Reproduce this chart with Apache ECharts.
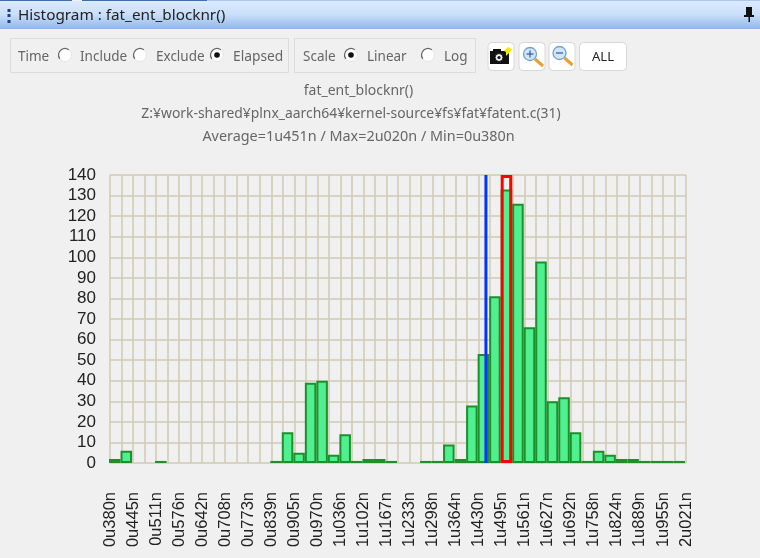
<!DOCTYPE html>
<html><head><meta charset="utf-8">
<style>html,body{margin:0;padding:0;background:#f0f0f0}#c{width:760px;height:558px}</style>
<script src="https://cdn.jsdelivr.net/npm/echarts@6/dist/echarts.min.js"></script>
</head><body><div id="c"></div>
<script>
const binCounts = [2,6,0,0,1,0,0,0,0,0,0,0,0,0,1,15,5,39,40,4,14,1,2,2,1,0,0,1,1,9,2,28,53,81,133,126,66,98,30,32,15,1,6,4,2,2,1,1,1,1];
const binIds = binCounts.map((_, i) => i);
const tickLabels = ['0u380n','0u445n','0u511n','0u576n','0u642n','0u708n','0u773n','0u839n','0u905n','0u970n','1u036n','1u102n','1u167n','1u233n','1u298n','1u364n','1u430n','1u495n','1u561n','1u627n','1u692n','1u758n','1u824n','1u889n','1u955n','2u021n'];
const selectedBin = 34;
const yMax = 140;
const averageNs = 1451, minNs = 380, maxNs = 2021;
const titleLines = ['fat_ent_blocknr()','Z:¥work-shared¥plnx_aarch64¥kernel-source¥fs¥fat¥fatent.c(31)','Average=1u451n / Max=2u020n / Min=0u380n'];

const UI = 'Noto Sans, sans-serif';
const txt = (x,y,s,size,fill,align) => ({type:'text',x,y,silent:true,style:{text:s,font:size+'px '+UI,fill:fill||'#555',textAlign:align||'left',textVerticalAlign:'middle'}});
const box = (x,y,w,h,fill,stroke,r) => ({type:'rect',shape:{x,y,width:w,height:h,r:r||0},silent:true,style:{fill:fill||'none',stroke:stroke||'none',lineWidth:1}});
const radio = (x,y,on) => {
  const a=[{type:'circle',shape:{cx:x,cy:y,r:6.5},silent:true,style:{fill:'#fff',stroke:'#e4e4e4',lineWidth:1}},
  {type:'arc',shape:{cx:x,cy:y,r:6.5,startAngle:Math.PI*0.8,endAngle:Math.PI*1.7},silent:true,style:{fill:'none',stroke:'#666',lineWidth:1.2}}];
  if(on)a.push({type:'circle',shape:{cx:x,cy:y,r:2.8},silent:true,style:{fill:'#111'}});
  return a;
};
const magnifier = (cx,cy,minus) => ([
  {type:'line',shape:{x1:cx+5,y1:cy+5,x2:cx+13,y2:cy+12},silent:true,style:{stroke:'#e8a030',lineWidth:3}},
  {type:'circle',shape:{cx,cy,r:6.5},silent:true,style:{fill:'#cfe6fb',stroke:'#7aa0c8',lineWidth:1.3}},
  {type:'line',shape:{x1:cx-3.5,y1:cy,x2:cx+3.5,y2:cy},silent:true,style:{stroke:'#3a60b0',lineWidth:1.3}},
].concat(minus?[]:[{type:'line',shape:{x1:cx,y1:cy-3.5,x2:cx,y2:cy+3.5},silent:true,style:{stroke:'#3a60b0',lineWidth:1.3}}]));

const graphics = [
  {type:'rect',shape:{x:0,y:1,width:760,height:28},silent:true,style:{fill:new echarts.graphic.LinearGradient(0,0,0,1,[{offset:0,color:'#dcebfd'},{offset:.5,color:'#c8defa'},{offset:1,color:'#8fb6e6'}])}},
  box(0,0,72,1,'#3e6db0'),box(82,0,125,1,'#3e6db0'),box(207,0,553,1,'#a9c8f2'),
  box(7.5,9,3,3,'#1c3f8c'),box(7.5,14,3,3,'#1c3f8c'),box(7.5,20,3,3,'#1c3f8c'),
  txt(18,15.5,'Histogram : fat_ent_blocknr()',15.3,'#222'),
  box(746,7,6,9,'#111'),box(744,15,10,2,'#111'),box(748.5,17,1.5,5,'#111'),
  box(10.5,38.5,278,34,'none','#dcdcdc'),box(294.5,38.5,181,34,'none','#dcdcdc'),
  txt(18,57,'Time',13.5,'#666'),txt(80,57,'Include',13.5,'#666'),txt(156,57,'Exclude',13.5,'#666'),txt(233,57,'Elapsed',13.8,'#666'),
  txt(303,57,'Scale',13.5,'#666'),txt(367,57,'Linear',13.5,'#666'),txt(444,57,'Log',13.5,'#666'),
  ...radio(65,55,false),...radio(140,55,false),...radio(217,55,true),...radio(351,55,true),...radio(428,55,false),
  box(488,42.5,26,28,'#fff','#d8d8d8',4),box(519,42.5,26,28,'#fff','#d8d8d8',4),box(549,42.5,26,28,'#fff','#d8d8d8',4),box(579.5,42.5,47,28,'#fff','#d8d8d8',4),
  box(490,51,19,13,'#111'),box(493,49,8,3,'#111'),
  {type:'circle',shape:{cx:499,cy:57.5,r:4},silent:true,style:{fill:'#eee',stroke:'#111',lineWidth:1}},
  {type:'circle',shape:{cx:499,cy:57.5,r:1.6},silent:true,style:{fill:'#111'}},
  {type:'polygon',shape:{points:[[508,47],[512,49],[510,52],[506,56],[506,52],[504,51]]},silent:true,style:{fill:'#f5e800'}},
  ...magnifier(530,54,false),...magnifier(559.5,53,true),
  txt(603,57,'ALL',13,'#222','center'),
  txt(358.5,91.5,titleLines[0],14,'#666','center'),
  txt(351,114,titleLines[1],13.9,'#666','center'),
  txt(358.5,136.5,titleLines[2],14.4,'#666','center'),
];

const avgPos = (averageNs-minNs)/(maxNs-minNs)*binCounts.length;
const chart = echarts.init(document.getElementById('c'),null,{renderer:'canvas'});
chart.setOption({
  backgroundColor:'#f0f0f0',
  animation:false,
  grid:[{left:110,top:175,width:576,height:288},{left:109,top:175,width:576,height:288}],
  xAxis:[
    {type:'category',gridIndex:1,data:binIds,show:false,boundaryGap:true},
    {type:'value',gridIndex:0,min:0,max:binCounts.length,interval:1,position:'bottom',
     axisLine:{show:false},axisTick:{show:false},
     splitLine:{show:true,lineStyle:{color:'#cfcbb5',width:1.5}},
     axisLabel:{show:true,rotate:90,margin:29,fontFamily:'Liberation Sans',fontSize:16.5,color:'#222',
       showMinLabel:true,showMaxLabel:true,hideOverlap:false,
       formatter:v=>v%2===0?tickLabels[v/2]:''}}
  ],
  yAxis:[{type:'value',gridIndex:0,min:0,max:yMax,interval:10,
    axisLine:{show:false},axisTick:{show:false},
    splitLine:{show:true,lineStyle:{color:'#cfcbb5',width:1.5}},
    axisLabel:{margin:14,padding:[0,0,5,0],fontFamily:'Liberation Sans',fontSize:17,color:'#222'}},
    {type:'value',gridIndex:1,min:0,max:yMax,interval:10,show:false,splitLine:{show:false}}],
  series:[
    {type:'bar',xAxisIndex:0,yAxisIndex:1,data:binCounts.map(v=>v||null),barWidth:'100%',barGap:'-100%',z:3,
     itemStyle:{color:'#50f090',borderColor:'#1f8f2b',borderWidth:2}},
    {type:'bar',xAxisIndex:0,yAxisIndex:1,data:binCounts.map((_,i)=>i===selectedBin?yMax:null),barWidth:'100%',barGap:'-100%',z:5,
     itemStyle:{color:'rgba(0,0,0,0)',borderColor:'#ff0000',borderWidth:3}},
    {type:'line',xAxisIndex:1,yAxisIndex:0,data:[[avgPos,0],[avgPos,yMax]],symbol:'none',z:4,
     lineStyle:{color:'#0033ff',width:3}}
  ],
  graphic:graphics
});
</script></body></html>
